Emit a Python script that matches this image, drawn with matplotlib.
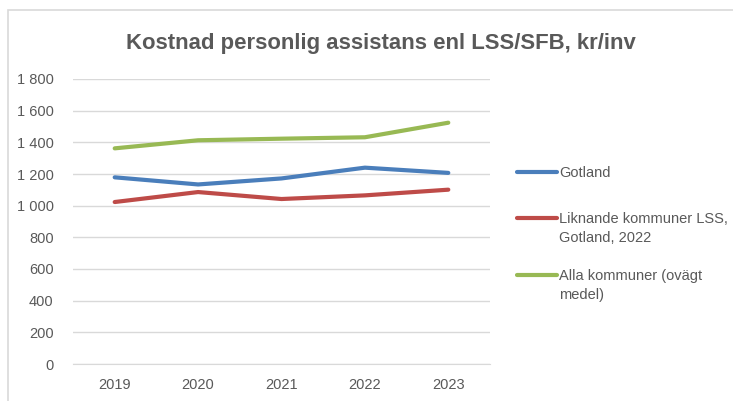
import matplotlib
matplotlib.use('Agg')
import matplotlib.pyplot as plt
from matplotlib.lines import Line2D
from matplotlib.patches import Rectangle

# data
years = ['2019', '2020', '2021', '2022', '2023']
gotland = [1179, 1134, 1172, 1240, 1207]
liknande = [1023, 1086, 1042, 1065, 1101]
alla = [1362, 1413, 1423, 1432, 1524]
series_labels = ['Gotland', 'Liknande kommuner LSS,\nGotland, 2022', 'Alla kommuner (ovägt\nmedel)']
series_colors = ['#4A7EBB', '#BE4B48', '#98B954']
yticks = [0, 200, 400, 600, 800, 1000, 1200, 1400, 1600, 1800]

plt.rcParams['font.family'] = ['Liberation Sans', 'DejaVu Sans']
grey = '#595959'

fig = plt.figure(figsize=(7.33, 4.01), dpi=100)
W, H = 733, 401
# chart area border (only top and left edges fall inside the picture)
fig.patches.append(Rectangle((8 / W, -0.1), 1, 1.1 - 10 / H, transform=fig.transFigure,
                             fill=False, edgecolor='#D9D9D9', lw=1.2))

ax = fig.add_axes([73 / W, 1 - 364 / H, (490 - 73) / W, (364 - 79) / H])
x = range(len(years))
for vals, col in zip([gotland, liknande, alla], series_colors):
    ax.plot(x, vals, color=col, lw=3, solid_capstyle='round')

ax.set_xlim(-0.5, len(years) - 0.5)
ax.set_ylim(0, 1800)
ax.set_yticks(yticks)
ax.set_yticklabels(['{:,}'.format(v).replace(',', ' ') for v in yticks])
ax.set_xticks(list(x))
ax.set_xticklabels(years)
ax.grid(axis='y', color='#D9D9D9', lw=1)
ax.set_axisbelow(True)
for s in ax.spines.values():
    s.set_visible(False)
ax.spines['bottom'].set_visible(True)
ax.spines['bottom'].set_color('#D9D9D9')
ax.tick_params(length=0, labelsize=10.5, labelcolor=grey)
ax.tick_params(axis='y', pad=14)
ax.tick_params(axis='x', pad=10)

fig.text(381 / W, 1 - 44 / H, 'Kostnad personlig assistans enl LSS/SFB, kr/inv',
         ha='center', va='center', fontsize=15.9, fontweight='bold', color=grey)

# legend drawn by hand so the line sits at the first text row
leg_y = [172, 218, 275]
for lab, col, yy in zip(series_labels, series_colors, leg_y):
    fig.lines.append(Line2D([517 / W, 557 / W], [1 - yy / H, 1 - yy / H], transform=fig.transFigure,
                            color=col, lw=3, solid_capstyle='round'))
    fig.text(559 / W, 1 - (yy - 6) / H, lab, ha='left', va='top', fontsize=10.5,
             color=grey, linespacing=1.45)

fig.savefig('out.png', dpi=100)
